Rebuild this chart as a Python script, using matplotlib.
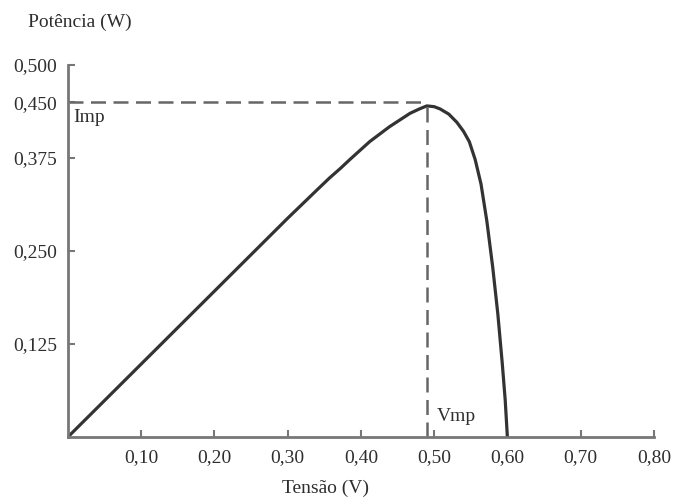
import matplotlib
matplotlib.use("Agg")
import matplotlib.pyplot as plt

# curva P x V
tensao = [0.0, 0.10, 0.20, 0.30, 0.32, 0.34, 0.357, 0.372, 0.385, 0.412, 0.439,
          0.467, 0.480, 0.490, 0.500, 0.508, 0.520, 0.531, 0.540, 0.548, 0.556,
          0.564, 0.572, 0.580, 0.587, 0.593, 0.597, 0.600]
potencia = [0.0, 0.098, 0.196, 0.294, 0.313, 0.332, 0.348, 0.361, 0.373, 0.397,
            0.417, 0.435, 0.441, 0.445, 0.444, 0.441, 0.434, 0.423, 0.411, 0.397,
            0.373, 0.340, 0.290, 0.228, 0.165, 0.099, 0.050, 0.0]

vmp = 0.49
pmp = 0.45

xticks = [0.10, 0.20, 0.30, 0.40, 0.50, 0.60, 0.70, 0.80]
xlabels = ["0,10", "0,20", "0,30", "0,40", "0,50", "0,60", "0,70", "0,80"]
yticks = [0.125, 0.250, 0.375, 0.450, 0.500]
ylabels = ["0,125", "0,250", "0,375", "0,450", "0,500"]

plt.rcParams['font.family'] = ['Liberation Serif', 'DejaVu Serif']
txt = '#2e2e2e'

fig = plt.figure(figsize=(6.79, 5.00), dpi=100)
ax = fig.add_axes([0.100, 0.126, 0.863, 0.744])

ax.plot(tensao, potencia, color='#333333', lw=2.3,
        solid_capstyle='round', solid_joinstyle='round')
ax.plot([0, vmp], [pmp, pmp], color='#666666', lw=1.8, ls=(0, (6, 3)))
ax.plot([vmp, vmp], [0, pmp], color='#666666', lw=1.8, ls=(0, (6, 3)))

ax.text(0.008, 0.441, "Imp", fontsize=14, color=txt, va='top', ha='left')
ax.text(0.503, 0.016, "Vmp", fontsize=14, color=txt, va='bottom', ha='left')

ax.set_xlim(0, 0.80)
ax.set_ylim(0, 0.50)
ax.set_xticks(xticks)
ax.set_xticklabels(xlabels)
ax.set_yticks(yticks)
ax.set_yticklabels(ylabels)
ax.tick_params(direction='in', length=5, width=1.5, color='#777777',
               labelsize=14, labelcolor=txt)
ax.tick_params(axis='y', pad=8)
ax.tick_params(axis='x', pad=9)

for s in ['top', 'right']:
    ax.spines[s].set_visible(False)
for s in ['left', 'bottom']:
    ax.spines[s].set_color('#777777')
    ax.spines[s].set_linewidth(2)

fig.text(80 / 679, 1 - 22 / 500, "Potência (W)", fontsize=14, color=txt,
         ha='center', va='center')
fig.text(325 / 679, 1 - 488 / 500, "Tensão (V)", fontsize=14, color=txt,
         ha='center', va='center')

fig.savefig("out.png", dpi=100)
